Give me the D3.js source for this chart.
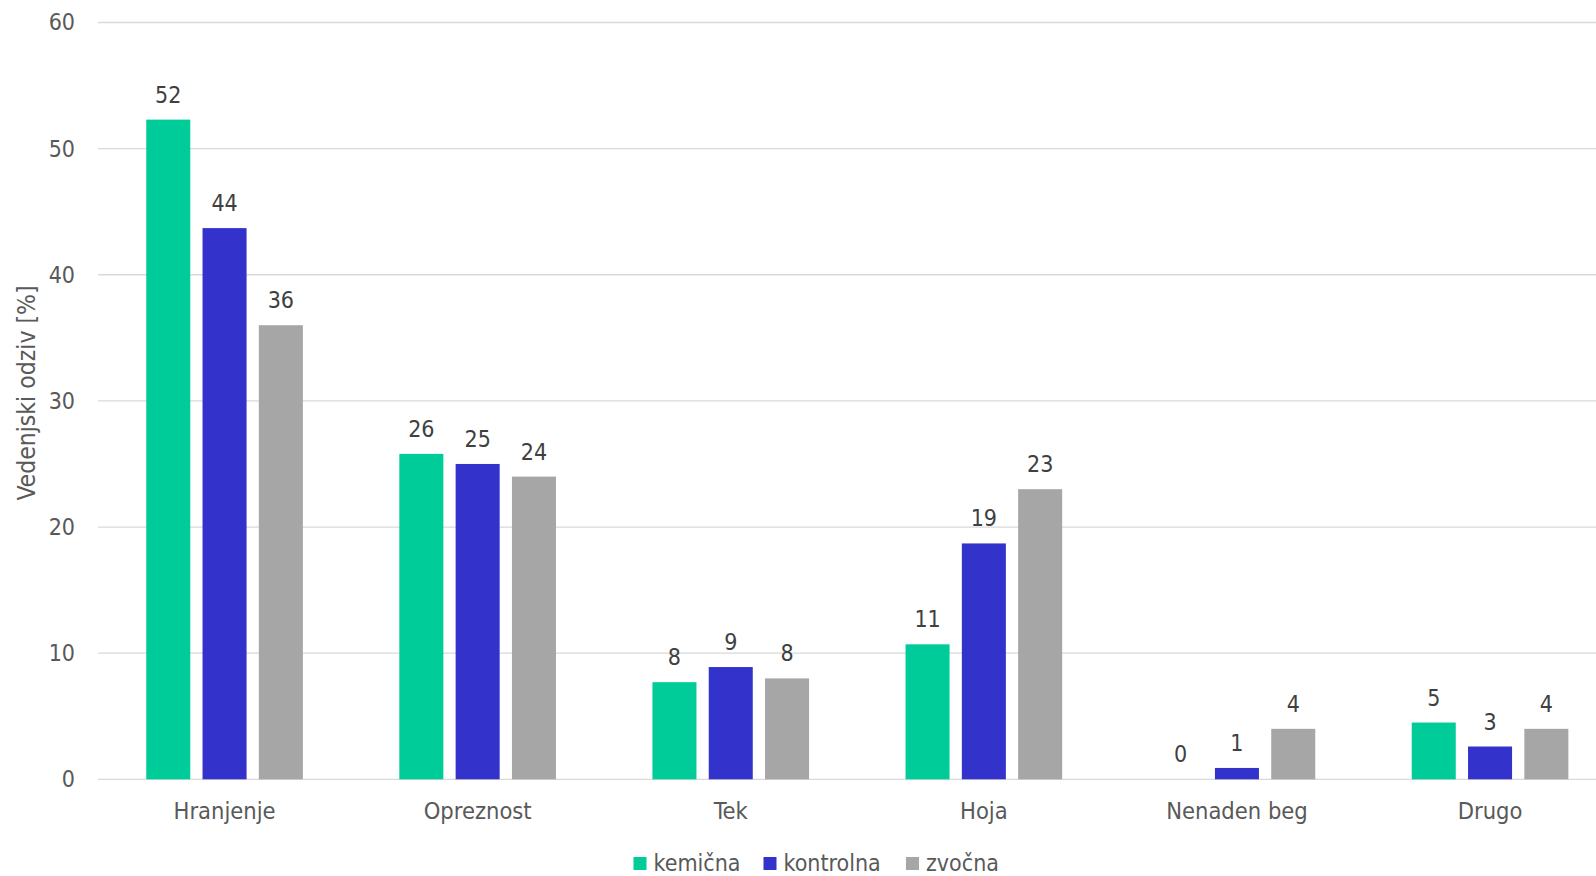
<!DOCTYPE html>
<html>
<head>
<meta charset="utf-8">
<script src="https://cdn.jsdelivr.net/npm/d3@7/dist/d3.min.js"></script>
<style>
  html, body { margin: 0; padding: 0; background: #fff; }
  svg { display: block; }
  text { font-family: "DejaVu Sans Condensed", "DejaVu Sans", sans-serif; font-stretch: condensed; }
</style>
</head>
<body>
<svg id="chart" width="1596" height="876"></svg>
<script>
// Categories and series
const categories = ["Hranjenje", "Opreznost", "Tek", "Hoja", "Nenaden beg", "Drugo"];
const seriesNames = ["kemična", "kontrolna", "zvočna"];
const kemicna   = [52.3, 25.8, 7.7, 10.7, 0.0, 4.5];
const kontrolna = [43.7, 25.0, 8.9, 18.7, 0.9, 2.6];
const zvocna    = [36.0, 24.0, 8.0, 23.0, 4.0, 4.0];
const yTicks = [0, 10, 20, 30, 40, 50, 60];
const yTitle = "Vedenjski odziv [%]";

const seriesValues = [kemicna, kontrolna, zvocna];
const colors = ["#00CC99", "#3333CC", "#A6A6A6"];

const svg = d3.select("#chart");
const W = 1596, H = 876;

const plot = { left: 98, top: 22.5, bottom: 779.3, step: 253.1 };

const x = d3.scaleBand()
  .domain(categories)
  .range([plot.left, plot.left + plot.step * categories.length])
  .padding(0);

const groupW = 168.9;
const xs = d3.scaleBand()
  .domain(seriesNames)
  .range([-groupW / 2, groupW / 2])
  .paddingInner(0.218)
  .paddingOuter(0.109);

const y = d3.scaleLinear().domain([0, 60]).range([plot.bottom, plot.top]);

// Gridlines
svg.append("g")
  .selectAll("line")
  .data(yTicks)
  .join("line")
  .attr("x1", plot.left)
  .attr("x2", W)
  .attr("y1", d => y(d))
  .attr("y2", d => y(d))
  .attr("stroke", "#D9D9D9")
  .attr("stroke-width", 1.3);

// Y axis tick labels
const yAxis = d3.axisLeft(y).tickValues(yTicks).tickSize(0).tickPadding(0);
const gy = svg.append("g").attr("transform", "translate(75,0)").call(yAxis);
gy.select(".domain").remove();
gy.selectAll("text")
  .attr("font-size", 23)
  .attr("fill", "#595959")
  .attr("font-family", null);

// Y axis title
svg.append("text")
  .attr("transform", "translate(26,393) rotate(-90)")
  .attr("text-anchor", "middle")
  .attr("dominant-baseline", "central")
  .attr("font-size", 24.5)
  .attr("fill", "#595959")
  .text(yTitle);

// X axis category labels
const xAxis = d3.axisBottom(x).tickSize(0).tickPadding(0);
const gx = svg.append("g").attr("transform", `translate(0,${plot.bottom})`).call(xAxis);
gx.select(".domain").remove();
gx.selectAll("text")
  .attr("font-size", 23.5)
  .attr("fill", "#595959")
  .attr("font-family", null)
  .attr("dy", null)
  .attr("y", 40);

// Bars and value labels
const rows = [];
categories.forEach((c, i) => {
  seriesNames.forEach((s, j) => {
    rows.push({ cat: c, ser: s, value: seriesValues[j][i], color: colors[j] });
  });
});

const cx = d => x(d.cat) + x.bandwidth() / 2 + xs(d.ser);

svg.append("g")
  .selectAll("rect")
  .data(rows)
  .join("rect")
  .attr("x", d => cx(d))
  .attr("width", xs.bandwidth())
  .attr("y", d => y(d.value))
  .attr("height", d => y(0) - y(d.value))
  .attr("fill", d => d.color);

svg.append("g")
  .selectAll("text")
  .data(rows)
  .join("text")
  .attr("x", d => cx(d) + xs.bandwidth() / 2)
  .attr("y", d => y(d.value) - 17)
  .attr("text-anchor", "middle")
  .attr("font-size", 23)
  .attr("fill", "#404040")
  .text(d => d3.format(".0f")(d.value));

// Legend
const legendItems = [
  { name: seriesNames[0], color: colors[0], x: 633.5 },
  { name: seriesNames[1], color: colors[1], x: 763.5 },
  { name: seriesNames[2], color: colors[2], x: 906 }
];
const lg = svg.append("g");
legendItems.forEach(it => {
  lg.append("rect")
    .attr("x", it.x).attr("y", 857)
    .attr("width", 13).attr("height", 13)
    .attr("fill", it.color);
  lg.append("text")
    .attr("x", it.x + 20).attr("y", 862.5)
    .attr("dominant-baseline", "central")
    .attr("font-size", 23)
    .attr("fill", "#595959")
    .text(it.name);
});
</script>
</body>
</html>
